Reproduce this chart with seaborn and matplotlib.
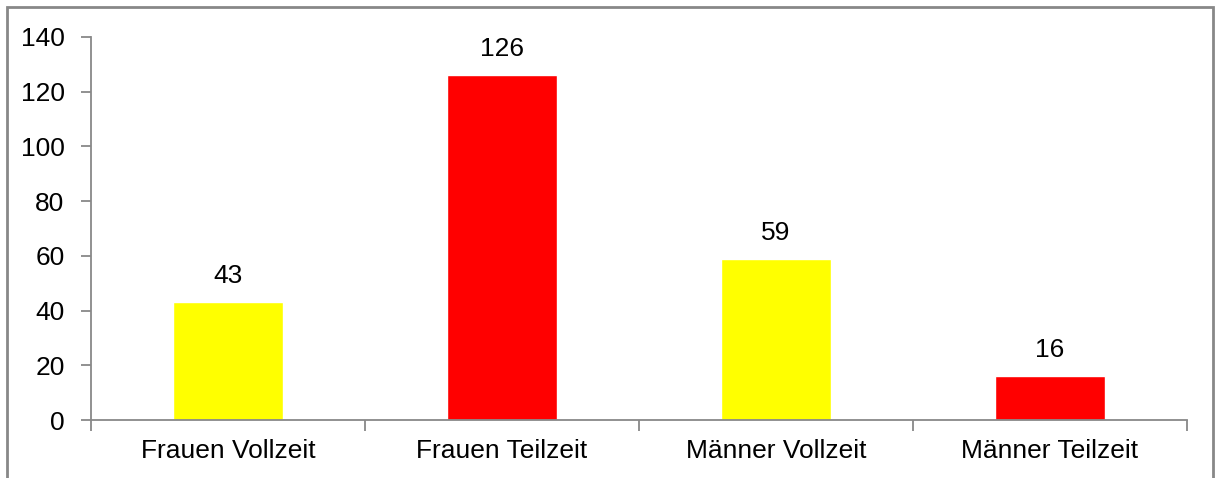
import pandas as pd
import matplotlib.pyplot as plt
import seaborn as sns
from matplotlib.patches import Rectangle

categories = ["Frauen Vollzeit", "Frauen Teilzeit", "Männer Vollzeit", "Männer Teilzeit"]
values = [43, 126, 59, 16]
colors = ["#FFFF00", "#FF0000", "#FFFF00", "#FF0000"]
y_ticks = [0, 20, 40, 60, 80, 100, 120, 140]

df = pd.DataFrame({"Kategorie": categories, "Anzahl": values})

sns.set_style("white")
plt.rcParams["font.family"] = ["Liberation Sans", "DejaVu Sans"]
plt.rcParams["text.color"] = "black"
plt.rcParams["xtick.labelcolor"] = "black"
plt.rcParams["ytick.labelcolor"] = "black"

fig = plt.figure(figsize=(12.22, 4.78), dpi=100)
ax = fig.add_axes([91 / 1222, 1 - 420 / 478, (1187 - 91) / 1222, (420 - 37) / 478])

sns.barplot(data=df, x="Kategorie", y="Anzahl", hue="Kategorie",
            palette=colors, width=0.4, legend=False, ax=ax, saturation=1)

ax.set_ylim(0, 140)
ax.set_xlim(-0.5, 3.5)
ax.set_yticks(y_ticks)
ax.set_xlabel("")
ax.set_ylabel("")

grey = "#888888"
for side in ["top", "right"]:
    ax.spines[side].set_visible(False)
for side in ["left", "bottom"]:
    ax.spines[side].set_color(grey)
    ax.spines[side].set_linewidth(1.3)

ax.tick_params(axis="y", length=7, width=1.3, color=grey, labelsize=19, pad=12,
               left=True, labelcolor="black")
ax.tick_params(axis="x", which="major", length=0, labelsize=19, pad=14, labelcolor="black")
ax.set_xticks([-0.5, 0.5, 1.5, 2.5, 3.5], minor=True)
ax.tick_params(axis="x", which="minor", length=8, width=1.3, color=grey, bottom=True)

# Value labels above bars
for p in ax.patches:
    h = p.get_height()
    if h > 0:
        ax.annotate(f"{h:.0f}", (p.get_x() + p.get_width() / 2, h),
                    xytext=(0, 10), textcoords="offset points",
                    ha="center", va="bottom", fontsize=19, color="black")

# Outer chart border
fig.patches.append(Rectangle((7 / 1222, -0.1), (1213 - 7) / 1222, 1 - 7 / 478 + 0.1,
                             transform=fig.transFigure, fill=False,
                             edgecolor=grey, linewidth=2))

fig.savefig("out.png", dpi=100)
